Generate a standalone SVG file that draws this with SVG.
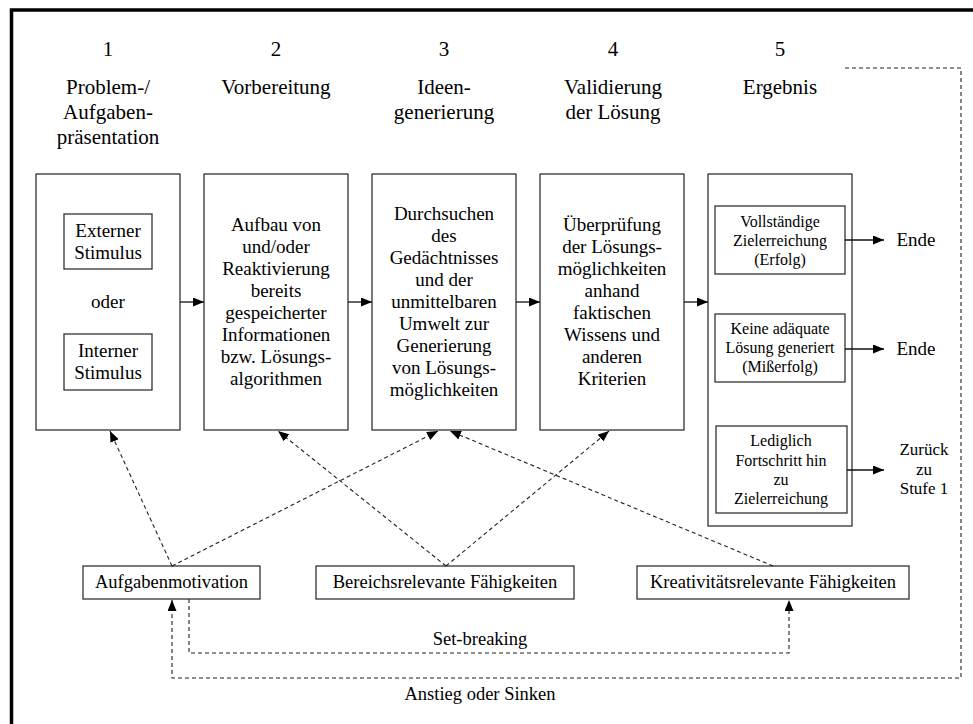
<svg xmlns="http://www.w3.org/2000/svg" width="973" height="724" viewBox="0 0 973 724">
<style>
text{font-family:"Liberation Serif","Times New Roman",serif;fill:#000;text-anchor:middle}
.h{font-size:21px}
.b{font-size:19px}
.s{font-size:16px}
.m{font-size:18.5px}
.z{font-size:17px}
.box{fill:#fff;stroke:#333;stroke-width:1.3}
.solid{fill:none;stroke:#111;stroke-width:1.3}
.dash{fill:none;stroke:#222;stroke-width:1.1;stroke-dasharray:4 3}
</style>
<defs>
<marker id="ah" markerUnits="userSpaceOnUse" markerWidth="11" markerHeight="9" refX="11" refY="4.5" orient="auto">
<path d="M0,0 L11,4.5 L0,9 z" fill="#000"/>
</marker>
</defs>
<rect x="11.5" y="10" width="990" height="750" fill="none" stroke="#000" stroke-width="3.5"/>

<g id="headings">
<text class="h" x="108" y="56">1</text>
<text class="h" x="108" y="94">Problem-/</text>
<text class="h" x="108" y="119">Aufgaben-</text>
<text class="h" x="108" y="144">präsentation</text>
<text class="h" x="276" y="56">2</text>
<text class="h" x="276" y="94">Vorbereitung</text>
<text class="h" x="444" y="56">3</text>
<text class="h" x="444" y="94">Ideen-</text>
<text class="h" x="444" y="119">generierung</text>
<text class="h" x="613" y="56">4</text>
<text class="h" x="613" y="94">Validierung</text>
<text class="h" x="613" y="119">der Lösung</text>
<text class="h" x="780" y="56">5</text>
<text class="h" x="780" y="94">Ergebnis</text>
</g>

<g id="stage1">
<rect class="box" x="36" y="174" width="144" height="256"/>
<rect class="box" x="64" y="214" width="88" height="55"/>
<text class="b" x="108" y="237">Externer</text>
<text class="b" x="108" y="259">Stimulus</text>
<text class="b" x="108" y="308">oder</text>
<rect class="box" x="64" y="334" width="88" height="56"/>
<text class="b" x="108" y="357">Interner</text>
<text class="b" x="108" y="379">Stimulus</text>
</g>

<g id="stage2">
<rect class="box" x="204" y="174" width="144" height="256"/>
<text class="b" x="276" y="231">Aufbau von</text>
<text class="b" x="276" y="253">und/oder</text>
<text class="b" x="276" y="275">Reaktivierung</text>
<text class="b" x="276" y="297">bereits</text>
<text class="b" x="276" y="319">gespeicherter</text>
<text class="b" x="276" y="341">Informationen</text>
<text class="b" x="276" y="363">bzw. Lösungs-</text>
<text class="b" x="276" y="385">algorithmen</text>
</g>

<g id="stage3">
<rect class="box" x="372" y="174" width="144" height="256"/>
<text class="b" x="444" y="220">Durchsuchen</text>
<text class="b" x="444" y="242">des</text>
<text class="b" x="444" y="264">Gedächtnisses</text>
<text class="b" x="444" y="286">und der</text>
<text class="b" x="444" y="308">unmittelbaren</text>
<text class="b" x="444" y="330">Umwelt zur</text>
<text class="b" x="444" y="352">Generierung</text>
<text class="b" x="444" y="374">von Lösungs-</text>
<text class="b" x="444" y="396">möglichkeiten</text>
</g>

<g id="stage4">
<rect class="box" x="540" y="174" width="144" height="256"/>
<text class="b" x="612" y="231">Überprüfung</text>
<text class="b" x="612" y="253">der Lösungs-</text>
<text class="b" x="612" y="275">möglichkeiten</text>
<text class="b" x="612" y="297">anhand</text>
<text class="b" x="612" y="319">faktischen</text>
<text class="b" x="612" y="341">Wissens und</text>
<text class="b" x="612" y="363">anderen</text>
<text class="b" x="612" y="385">Kriterien</text>
</g>

<g id="stage5">
<rect class="box" x="708" y="174" width="144" height="352"/>
<rect class="box" x="715" y="206" width="130" height="68"/>
<text class="s" x="780" y="227">Vollständige</text>
<text class="s" x="780" y="246">Zielerreichung</text>
<text class="s" x="780" y="265">(Erfolg)</text>
<rect class="box" x="715" y="314" width="130" height="68"/>
<text class="s" x="780" y="334">Keine adäquate</text>
<text class="s" x="780" y="353">Lösung generiert</text>
<text class="s" x="780" y="372">(Mißerfolg)</text>
<rect class="box" x="716" y="426" width="131" height="87"/>
<text class="s" x="781" y="446">Lediglich</text>
<text class="s" x="781" y="466">Fortschritt hin</text>
<text class="s" x="781" y="485">zu</text>
<text class="s" x="781" y="504">Zielerreichung</text>
</g>

<g id="outcomes">
<text class="b" x="916" y="246">Ende</text>
<text class="b" x="916" y="355">Ende</text>
<text class="z"><tspan x="924" y="455">Zurück</tspan><tspan x="924" y="474.5">zu</tspan><tspan x="924" y="494">Stufe 1</tspan></text>
</g>

<g id="aufgabenmotivation">
<rect class="box" x="83" y="566" width="177" height="33"/>
<text class="m" x="171.5" y="588">Aufgabenmotivation</text>
</g>
<g id="bereichsrelevante">
<rect class="box" x="316" y="566" width="258" height="33"/>
<text class="m" x="445" y="588">Bereichsrelevante Fähigkeiten</text>
</g>
<g id="kreativitaetsrelevante">
<rect class="box" x="637" y="566" width="272" height="33"/>
<text class="m" x="773" y="588">Kreativitätsrelevante Fähigkeiten</text>
</g>

<g id="connectors">
<path class="solid" d="M180,302 H204" marker-end="url(#ah)"/>
<path class="solid" d="M348,302 H372" marker-end="url(#ah)"/>
<path class="solid" d="M516,302 H540" marker-end="url(#ah)"/>
<path class="solid" d="M684,302 H708" marker-end="url(#ah)"/>
<path class="solid" d="M845,240 H884" marker-end="url(#ah)"/>
<path class="solid" d="M845,349 H884" marker-end="url(#ah)"/>
<path class="solid" d="M847,470 H884" marker-end="url(#ah)"/>
<path class="dash" d="M172,566 L110,431" marker-end="url(#ah)"/>
<path class="dash" d="M172,566 L438,431" marker-end="url(#ah)"/>
<path class="dash" d="M446,566 L278,431" marker-end="url(#ah)"/>
<path class="dash" d="M446,566 L609,431" marker-end="url(#ah)"/>
<path class="dash" d="M773,566 L450,431" marker-end="url(#ah)"/>
<path class="dash" d="M189,599 V653 H789 V600" marker-end="url(#ah)"/>
<path class="dash" d="M845,68 H961 V678 H172 V600" marker-end="url(#ah)"/>
<text class="m" x="480" y="645">Set-breaking</text>
<text class="m" x="480" y="700">Anstieg oder Sinken</text>
</g>
</svg>
